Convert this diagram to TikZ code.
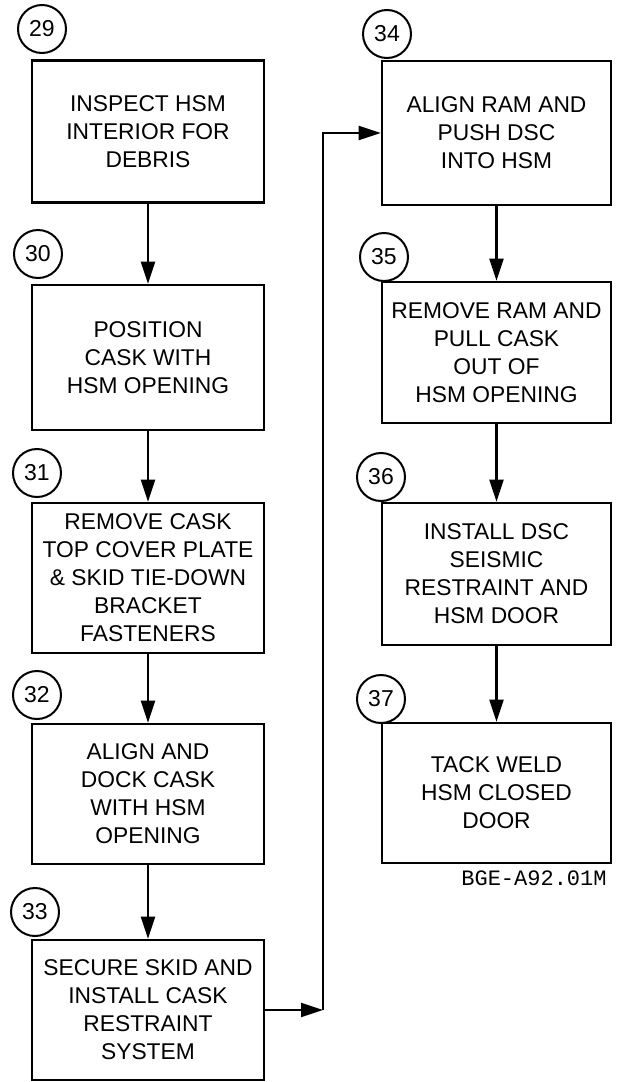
\documentclass[tikz,border=0pt]{standalone}
\usepackage{fontspec}
\setmainfont{Liberation Sans}
\newfontfamily\drawingno{Liberation Mono}
\usepackage{tikz}
\usetikzlibrary{arrows.meta,positioning}
\newcommand{\boxfont}{\fontsize{11.4}{14}\selectfont}

\begin{document}
\begin{tikzpicture}[
  x=0.5pt, y=-0.5pt,
  font=\boxfont,
  >={Triangle[length=11pt, width=7pt]},
  flow/.style={->, line width=1.1pt, draw=black},
  stepbox/.style={draw, line width=1.3pt, align=center, minimum width=116pt,
                  minimum height=71pt, inner sep=2pt},
  stepnum/.style={draw, circle, line width=1pt, minimum size=24pt,
                  inner sep=0pt, font=\fontsize{11.5}{13}\selectfont}
]
\useasboundingbox (0,0) rectangle (621,1082);

%% ---- left column --------------------------------------------------------
\node[stepnum] (n29) at (42,29)  {29};
\node[stepbox] (s29) at (148,131.5)
  {INSPECT HSM\\INTERIOR FOR\\DEBRIS};
\node[stepnum] (n30) at (38,254) {30};
\node[stepbox, minimum height=72.5pt] (s30) at (148,357.5)
  {POSITION\\CASK WITH\\HSM OPENING};
\node[stepnum] (n31) at (37,473) {31};
\node[stepbox, minimum height=75pt] (s31) at (148,578)
  {REMOVE CASK\\TOP COVER PLATE\\\& SKID TIE-DOWN\\BRACKET\\FASTENERS};
\node[stepnum] (n32) at (37,695) {32};
\node[stepbox, minimum height=70pt] (s32) at (148,794)
  {ALIGN AND\\DOCK CASK\\WITH HSM\\OPENING};
\node[stepnum] (n33) at (35,912) {33};
\node[stepbox, minimum height=70pt] (s33) at (148,1010)
  {SECURE SKID AND\\INSTALL CASK\\RESTRAINT\\SYSTEM};

\draw[flow] (s29) -- (s30);
\draw[flow] (s30) -- (s31);
\draw[flow] (s31) -- (s32);
\draw[flow] (s32) -- (s33);

%% ---- right column -------------------------------------------------------
\node[stepnum] (n34) at (387,34) {34};
\node[stepbox, minimum width=114.5pt, minimum height=72pt] (s34) at (496.5,133)
  {ALIGN RAM AND\\PUSH DSC\\INTO HSM};
\node[stepnum] (n35) at (384,257) {35};
\node[stepbox, minimum width=114.5pt, minimum height=70.5pt] (s35) at (496.5,352.5)
  {REMOVE RAM AND\\PULL CASK\\OUT OF\\HSM OPENING};
\node[stepnum] (n36) at (381,477) {36};
\node[stepbox, minimum width=114.5pt] (s36) at (496.5,574)
  {INSTALL DSC\\SEISMIC\\RESTRAINT AND\\HSM DOOR};
\node[stepnum] (n37) at (381,699) {37};
\node[stepbox, minimum width=114.5pt, minimum height=70pt] (s37) at (496.5,793)
  {TACK WELD\\HSM CLOSED\\DOOR};

\draw[flow] (s34) -- (s35);
\draw[flow] (s35) -- (s36);
\draw[flow] (s36) -- (s37);

%% step 33 leads over to the top of the second column
\coordinate (jn) at (323,1010);
\draw[flow] (s33.east) -- (jn);
\draw[flow] (jn) |- (s34.west);

\node[font=\drawingno\fontsize{11}{13}\selectfont, anchor=east, inner sep=0pt]
  (dwg) at (607,878) {BGE-A92.01M};

\end{tikzpicture}
\end{document}
